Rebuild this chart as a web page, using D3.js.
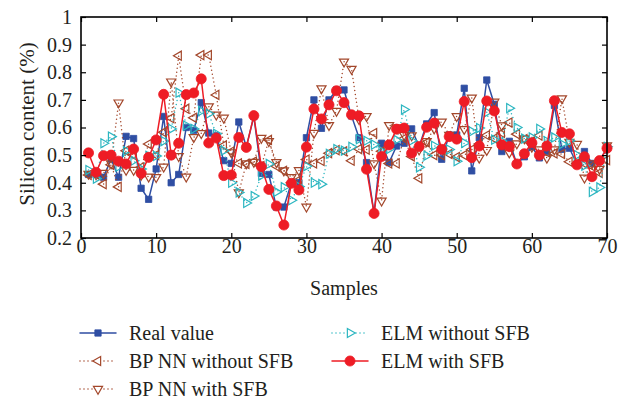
<!DOCTYPE html>
<html>
<head>
<meta charset="utf-8">
<script src="https://cdn.jsdelivr.net/npm/d3@7"></script>
<style>
  body { margin: 0; background: #fff; }
</style>
</head>
<body>
<div id="chart"></div>
<script>
// values, samples 1..70
const samples = d3.range(1, 71);

const realValue = [0.43, 0.43, 0.42, 0.486, 0.42, 0.568, 0.56, 0.38, 0.34, 0.45,
  0.64, 0.40, 0.43, 0.60, 0.59, 0.69, 0.58, 0.57, 0.48, 0.47,
  0.62, 0.53, 0.64, 0.434, 0.43, 0.312, 0.312, 0.40, 0.40, 0.563,
  0.70, 0.597, 0.70, 0.736, 0.736, 0.642, 0.563, 0.473, 0.289, 0.543,
  0.473, 0.533, 0.543, 0.595, 0.531, 0.613, 0.654, 0.485, 0.573, 0.573,
  0.742, 0.443, 0.563, 0.772, 0.684, 0.513, 0.55, 0.468, 0.494, 0.53,
  0.49, 0.513, 0.68, 0.521, 0.525, 0.468, 0.513, 0.47, 0.48, 0.525];

const bpWithout = [0.428, 0.43, 0.395, 0.465, 0.385, 0.516, 0.50, 0.456, 0.54, 0.50,
  0.583, 0.634, 0.86, 0.668, 0.635, 0.862, 0.862, 0.718, 0.535, 0.513,
  0.47, 0.468, 0.477, 0.46, 0.555, 0.46, 0.443, 0.40, 0.41, 0.484,
  0.47, 0.479, 0.507, 0.518, 0.514, 0.48, 0.522, 0.52, 0.58, 0.514,
  0.47, 0.47, 0.56, 0.495, 0.416, 0.546, 0.50, 0.50, 0.504, 0.493,
  0.50, 0.52, 0.54, 0.572, 0.56, 0.58, 0.618, 0.576, 0.558, 0.55,
  0.571, 0.51, 0.506, 0.504, 0.476, 0.47, 0.47, 0.46, 0.436, 0.482];

const bpWith = [0.432, 0.43, 0.435, 0.47, 0.69, 0.446, 0.446, 0.428, 0.422, 0.42,
  0.458, 0.766, 0.496, 0.422, 0.565, 0.579, 0.676, 0.646, 0.635, 0.51,
  0.365, 0.47, 0.475, 0.562, 0.55, 0.474, 0.444, 0.42, 0.445, 0.313,
  0.58, 0.741, 0.608, 0.66, 0.838, 0.812, 0.63, 0.641, 0.47, 0.335,
  0.608, 0.60, 0.573, 0.571, 0.52, 0.55, 0.596, 0.621, 0.573, 0.641,
  0.594, 0.708, 0.49, 0.518, 0.693, 0.607, 0.509, 0.542, 0.56, 0.53,
  0.52, 0.49, 0.52, 0.705, 0.548, 0.54, 0.418, 0.47, 0.45, 0.535];

const elmWithout = [0.446, 0.415, 0.543, 0.567, 0.458, 0.515, 0.48, 0.45, 0.497, 0.497,
  0.551, 0.595, 0.726, 0.607, 0.595, 0.66, 0.65, 0.577, 0.516, 0.40,
  0.365, 0.327, 0.352, 0.426, 0.468, 0.367, 0.384, 0.337, 0.386, 0.46,
  0.40, 0.395, 0.505, 0.522, 0.516, 0.53, 0.558, 0.552, 0.538, 0.514,
  0.522, 0.555, 0.665, 0.552, 0.456, 0.498, 0.534, 0.522, 0.52, 0.478,
  0.544, 0.586, 0.598, 0.655, 0.556, 0.55, 0.67, 0.60, 0.56, 0.564,
  0.595, 0.55, 0.564, 0.54, 0.552, 0.50, 0.462, 0.367, 0.383, 0.53];

const elmWith = [0.508, 0.438, 0.498, 0.50, 0.478, 0.468, 0.522, 0.434, 0.492, 0.555,
  0.72, 0.50, 0.543, 0.719, 0.725, 0.776, 0.544, 0.562, 0.426, 0.428,
  0.564, 0.528, 0.643, 0.458, 0.376, 0.316, 0.247, 0.398, 0.374, 0.529,
  0.667, 0.631, 0.682, 0.733, 0.69, 0.646, 0.642, 0.449, 0.289, 0.495,
  0.537, 0.594, 0.598, 0.507, 0.531, 0.601, 0.616, 0.521, 0.567, 0.558,
  0.694, 0.491, 0.533, 0.696, 0.66, 0.537, 0.531, 0.468, 0.505, 0.545,
  0.50, 0.533, 0.697, 0.582, 0.577, 0.465, 0.494, 0.422, 0.48, 0.525];

const seriesNames = ["Real value", "BP NN without SFB", "BP NN with SFB",
  "ELM without SFB", "ELM with SFB"];
const xTicks = [0, 10, 20, 30, 40, 50, 60, 70];
const yTicks = [0.2, 0.3, 0.4, 0.5, 0.6, 0.7, 0.8, 0.9, 1];

const blue = "#2f4ea3", brown = "#a3472b", cyan = "#2cb6c1", red = "#ee1c25";
const dots = "0,4";
const serif = "'Liberation Serif', 'DejaVu Serif', serif";

const series = [
  { name: seriesNames[0], values: realValue, color: blue, dash: null, sym: d3.symbolSquare, size: 40, rot: 0, filled: true },
  { name: seriesNames[1], values: bpWithout, color: brown, dash: dots, sym: d3.symbolTriangle, size: 36, rot: -90, filled: false },
  { name: seriesNames[2], values: bpWith, color: brown, dash: dots, sym: d3.symbolTriangle, size: 36, rot: 180, filled: false },
  { name: seriesNames[3], values: elmWithout, color: cyan, dash: dots, sym: d3.symbolTriangle, size: 36, rot: 90, filled: false },
  { name: seriesNames[4], values: elmWith, color: red, dash: null, sym: d3.symbolCircle, size: 80, rot: 0, filled: true },
];

const width = 624, height = 401;
const svg = d3.select("#chart").append("svg")
  .attr("width", width).attr("height", height);

const x = d3.scaleLinear().domain([0, 70]).range([81, 607]);
const y = d3.scaleLinear().domain([0.2, 1]).range([238, 17]);

const fs = 20;

// series
const line = d3.line().x((d, i) => x(samples[i])).y((d) => y(d));

series.forEach((s) => {
  svg.append("path")
    .datum(s.values)
    .attr("d", line)
    .attr("fill", "none")
    .attr("stroke", s.color)
    .attr("stroke-width", 1.5)
    .attr("stroke-linecap", "round")
    .attr("stroke-dasharray", s.dash);
  svg.append("g")
    .selectAll("path")
    .data(s.values)
    .enter()
    .append("path")
    .attr("d", d3.symbol(s.sym, s.size))
    .attr("transform", (d, i) => `translate(${x(samples[i])},${y(d)}) rotate(${s.rot})`)
    .attr("fill", s.filled ? s.color : "none")
    .attr("stroke", s.color)
    .attr("stroke-width", s.filled ? 0.8 : 1.2);
});

// axes, ticks pointing inward on all four sides
function styleAxis(g) {
  g.select(".domain").remove();
  g.selectAll(".tick line").attr("stroke", "#000").attr("stroke-width", 1.2);
}

svg.append("g")
  .attr("transform", "translate(0,238)")
  .call(d3.axisBottom(x).tickValues(xTicks).tickSize(-5).tickPadding(1).tickFormat(d3.format("d")))
  .call(styleAxis);
svg.append("g")
  .attr("transform", "translate(0,17)")
  .call(d3.axisTop(x).tickValues(xTicks).tickSize(-5).tickFormat(""))
  .call(styleAxis);
svg.append("g")
  .attr("transform", "translate(81,0)")
  .call(d3.axisLeft(y).tickValues(yTicks).tickSize(-5).tickPadding(9).tickFormat((d) => d === 1 ? "1" : d3.format(".1f")(d)))
  .call(styleAxis);
svg.append("g")
  .attr("transform", "translate(607,0)")
  .call(d3.axisRight(y).tickValues(yTicks).tickSize(-5).tickFormat(""))
  .call(styleAxis);

svg.append("rect")
  .attr("x", 81).attr("y", 17)
  .attr("width", 607 - 81).attr("height", 238 - 17)
  .attr("fill", "none").attr("stroke", "#000").attr("stroke-width", 1.6);

// axis titles
svg.append("text")
  .attr("x", 344).attr("y", 295)
  .attr("text-anchor", "middle")
  .attr("font-size", fs)
  .text("Samples");
svg.append("text")
  .attr("transform", "translate(34,124) rotate(-90)")
  .attr("text-anchor", "middle")
  .attr("font-size", 21)
  .text("Silicon content (%)");

// legend: two columns
const legendPos = [[80, 333], [80, 361], [80, 389], [332, 333], [332, 361]];
const lg = svg.append("g")
  .selectAll("g")
  .data(series)
  .enter()
  .append("g")
  .attr("transform", (d, i) => `translate(${legendPos[i][0]},${legendPos[i][1]})`);
lg.append("line")
  .attr("x1", 0).attr("x2", 36)
  .attr("stroke", (d) => d.color)
  .attr("stroke-width", 1.5)
  .attr("stroke-linecap", "round")
  .attr("stroke-dasharray", (d) => d.dash);
lg.append("path")
  .attr("d", (d) => d3.symbol(d.sym, d.size)())
  .attr("transform", (d) => `translate(18,0) rotate(${d.rot})`)
  .attr("fill", (d) => d.filled ? d.color : "#fff")
  .attr("stroke", (d) => d.color)
  .attr("stroke-width", (d) => d.filled ? 0.8 : 1.2);
lg.append("text")
  .attr("x", 49).attr("y", 0)
  .attr("dy", "0.35em")
  .text((d) => d.name);

// one serif face for every label, set on the elements themselves
svg.selectAll("text")
  .style("font-family", serif)
  .style("fill", "#231f20");
svg.selectAll(".tick text, g > g > text").style("font-size", fs + "px");
</script>
</body>
</html>
